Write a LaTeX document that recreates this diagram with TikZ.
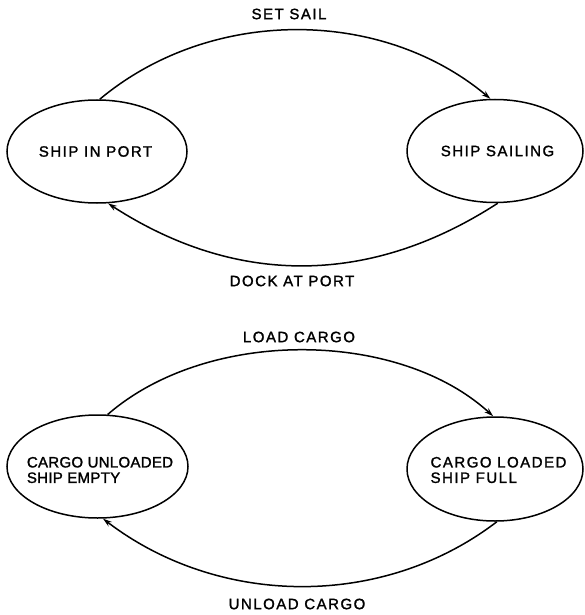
\documentclass[tikz,border=0pt]{standalone}
\usepackage{fontspec}
\setmainfont{Liberation Sans}[LetterSpace=10,FakeBold=1.5]
\usetikzlibrary{shapes.geometric,arrows.meta}
\begin{document}
\begin{tikzpicture}[x=1pt,y=-1pt,
  state/.style={draw, ellipse, line width=1.5pt, inner sep=0pt, minimum width=180pt, minimum height=103pt},
  txt/.style={inner sep=0pt, align=left, font=\fontsize{15}{15.5}\selectfont},
  lbl/.style={inner sep=0pt, font=\fontsize{15}{15.5}\selectfont},
  trans/.style={line width=1.5pt, -{Stealth[length=9pt,width=5.5pt]}}]
\useasboundingbox (0,0) rectangle (584,615);
% top diagram
\node[state] (port) at (97,151.5) {};
\node[txt] (porttxt) at (95.5,151.5) {SHIP IN PORT};
\node[state, minimum width=176pt, minimum height=103pt] (sail) at (495,151) {};
\node[txt] (sailtxt) at (497.5,151) {SHIP SAILING};
\node[lbl] (setsail) at (289,14) {SET SAIL};
\node[lbl] (dock) at (292,281) {DOCK AT PORT};
\draw[trans] (port.87) .. controls +(110,-92) and +(-110,-92) .. (sail.95);
\draw[trans] (sail.273) .. controls +(-128,83) and +(128,83) .. (port.282);
% bottom diagram
\node[state, minimum width=181pt] (empty) at (97.5,466.5) {};
\node[txt, font=\fontsize{15}{15.5}\selectfont\addfontfeature{LetterSpace=2}] (emptytxt) at (100,470) {CARGO UNLOADED\\SHIP EMPTY};
\node[state, minimum width=176pt, minimum height=104pt] (full) at (495,469) {};
\node[txt] (fulltxt) at (498.5,470) {CARGO LOADED\\SHIP FULL};
\node[lbl] (load) at (299,337) {LOAD CARGO};
\node[lbl] (unload) at (297,604) {UNLOAD CARGO};
\draw[trans] (empty.79) .. controls +(100,-87) and +(-95,-87) .. (full.92);
\draw[trans] (full.272) .. controls +(-115,88) and +(115,88) .. (empty.276);
\end{tikzpicture}
\end{document}
